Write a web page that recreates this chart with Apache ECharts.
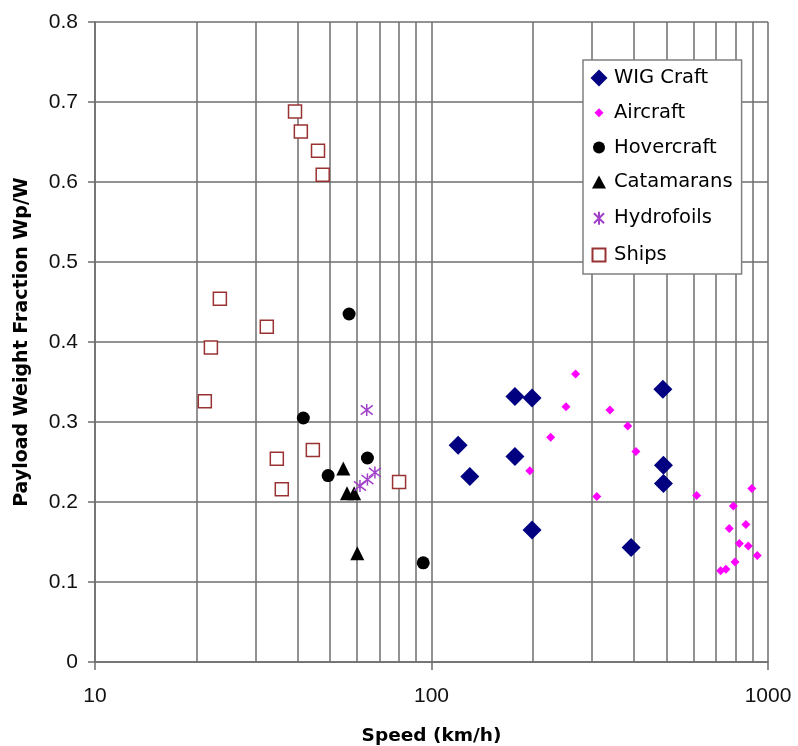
<!DOCTYPE html>
<html>
<head>
<meta charset="utf-8">
<script src="https://cdn.jsdelivr.net/npm/echarts@6/dist/echarts.min.js"></script>
<style>
html,body{margin:0;padding:0;background:#fff;}
#chart{width:798px;height:746px;}
</style>
</head>
<body>
<div id="chart"></div>
<script>
// ---- data (speed km/h, payload weight fraction) ----
var seriesNames = ['WIG Craft', 'Aircraft', 'Hovercraft', 'Catamarans', 'Hydrofoils', 'Ships'];

var wigX = [120, 130, 177, 199, 177, 199, 392, 487, 489, 489];
var wigY = [0.271, 0.232, 0.332, 0.330, 0.257, 0.165, 0.143, 0.341, 0.246, 0.223];

var aircraftX = [196, 226, 251, 268, 310, 339, 383, 405, 614, 723, 750, 767, 789, 798, 822, 860, 874, 895, 929];
var aircraftY = [0.239, 0.281, 0.319, 0.360, 0.207, 0.315, 0.295, 0.263, 0.208, 0.114, 0.116, 0.167, 0.195, 0.125, 0.148, 0.172, 0.145, 0.217, 0.133];

var hoverX = [56.9, 41.6, 49.3, 64.5, 94.5];
var hoverY = [0.435, 0.305, 0.233, 0.255, 0.124];

var catX = [54.7, 56.1, 58.9, 60.2];
var catY = [0.242, 0.211, 0.211, 0.136];

var hydroX = [64.2, 67.9, 64.5, 61.3];
var hydroY = [0.315, 0.237, 0.228, 0.220];

var shipX = [39.3, 40.9, 46.0, 47.5, 23.5, 32.4, 22.1, 21.2, 34.7, 44.4, 35.9, 80.1];
var shipY = [0.688, 0.663, 0.639, 0.609, 0.454, 0.419, 0.393, 0.326, 0.254, 0.265, 0.216, 0.225];

// axis ticks
var xMin = 10, xMax = 1000;
var yMin = 0, yMax = 0.8, yStep = 0.1;
var xMinorLines = [20, 30, 40, 50, 60, 70, 80, 90, 200, 300, 400, 500, 600, 700, 800, 900];

function pairs(xs, ys) {
  return xs.map(function (x, i) { return [x, ys[i]]; });
}

var gridColor = '#6e6e6e';
var asteriskPath = 'path://M0,0L10,10M10,0L0,10M5,-1.5L5,11.5';

var legendIcons = {
  'WIG Craft': 'path://M0,0M20,20M10,1.5L18.5,10L10,18.5L1.5,10Z',
  'Aircraft': 'path://M0,0M20,20M10,5.5L14.5,10L10,14.5L5.5,10Z',
  'Hovercraft': 'path://M0,0M20,20M4,10A6,6 0 1 1 16,10A6,6 0 1 1 4,10Z',
  'Catamarans': 'path://M0,0M20,20M10,3L17,16L3,16Z',
  'Hydrofoils': 'path://M0,0M20,20M5,5L15,15M15,5L5,15M10,3.5L10,16.5',
  'Ships': 'path://M0,0M20,20M3.5,3.5L16.5,3.5L16.5,16.5L3.5,16.5Z'
};

var chart = echarts.init(document.getElementById('chart'), null, {renderer: 'canvas'});

var option = {
  animation: false,
  backgroundColor: '#ffffff',
  grid: {left: 95, right: 30, top: 22, bottom: 84, containLabel: false, outerBoundsMode: 'none'},
  legend: {
    z: 20,
    orient: 'vertical',
    left: 583,
    top: 60,
    padding: [8, 9, 8, 5],
    itemWidth: 20,
    itemHeight: 20,
    itemGap: 14.8,
    itemTextGap: 5,
    backgroundColor: '#ffffff',
    borderColor: '#808080',
    borderWidth: 1.5,
    borderRadius: 0,
    selectedMode: false,
    textStyle: {fontFamily: 'DejaVu Sans', fontSize: 19.5, color: '#000', lineHeight: 20},
    data: seriesNames.map(function (n) { return {name: n, icon: legendIcons[n]}; })
  },
  xAxis: {
    type: 'log',
    logBase: 10,
    min: xMin,
    max: xMax,
    name: 'Speed (km/h)',
    nameLocation: 'middle',
    nameGap: 65,
    nameTextStyle: {fontFamily: 'DejaVu Sans', fontWeight: 'bold', fontSize: 18.5, color: '#000'},
    axisLine: {show: true, onZero: false, lineStyle: {color: gridColor, width: 1.5}},
    axisTick: {show: true, length: 8, lineStyle: {color: gridColor, width: 1.5}},
    axisLabel: {
      fontFamily: 'Liberation Sans', fontSize: 21, color: '#111', margin: 24,
      formatter: function (v) { return String(Math.round(v)); }
    },
    splitLine: {show: true, lineStyle: {color: gridColor, width: 1.5}},
    minorTick: {show: false},
    minorSplitLine: {show: false}
  },
  yAxis: {
    type: 'value',
    min: yMin,
    max: yMax,
    interval: yStep,
    name: 'Payload Weight Fraction Wp/W',
    nameLocation: 'middle',
    nameRotate: 90,
    nameGap: 63,
    nameTextStyle: {fontFamily: 'DejaVu Sans', fontWeight: 'bold', fontSize: 19, color: '#000'},
    axisLine: {show: true, lineStyle: {color: gridColor, width: 1.5}},
    axisTick: {show: true, length: 7, lineStyle: {color: gridColor, width: 1.5}},
    axisLabel: {fontFamily: 'Liberation Sans', fontSize: 21, color: '#111', margin: 17},
    splitLine: {show: true, lineStyle: {color: gridColor, width: 1.5}}
  },
  series: [
    {
      name: '_minor',
      type: 'scatter',
      data: [],
      z: 1,
      silent: true,
      markLine: {
        silent: true,
        z: 1,
        symbol: ['none', 'none'],
        label: {show: false},
        lineStyle: {color: gridColor, width: 1.5, type: 'solid'},
        emphasis: {disabled: true},
        data: xMinorLines.map(function (v) { return {xAxis: v}; })
      }
    },
    {
      name: 'WIG Craft', type: 'scatter', z: 3,
      symbol: 'diamond', symbolSize: 19,
      itemStyle: {color: '#000080', opacity: 1},
      data: pairs(wigX, wigY)
    },
    {
      name: 'Aircraft', type: 'scatter', z: 3,
      symbol: 'diamond', symbolSize: 9,
      itemStyle: {color: '#FF00FF', opacity: 1},
      data: pairs(aircraftX, aircraftY)
    },
    {
      name: 'Hovercraft', type: 'scatter', z: 3,
      symbol: 'circle', symbolSize: 13,
      itemStyle: {color: '#000000', opacity: 1},
      data: pairs(hoverX, hoverY)
    },
    {
      name: 'Catamarans', type: 'scatter', z: 3,
      symbol: 'triangle', symbolSize: 14,
      itemStyle: {color: '#000000', opacity: 1},
      data: pairs(catX, catY)
    },
    {
      name: 'Hydrofoils', type: 'scatter', z: 3,
      symbol: asteriskPath, symbolSize: 12,
      itemStyle: {color: 'rgba(0,0,0,0)', borderColor: '#A040C8', borderWidth: 1.5, opacity: 1},
      data: pairs(hydroX, hydroY)
    },
    {
      name: 'Ships', type: 'scatter', z: 3,
      symbol: 'rect', symbolSize: 13,
      itemStyle: {color: '#ffffff', borderColor: '#993333', borderWidth: 1.5, opacity: 1},
      data: pairs(shipX, shipY)
    }
  ]
};

chart.setOption(option);
</script>
</body>
</html>
